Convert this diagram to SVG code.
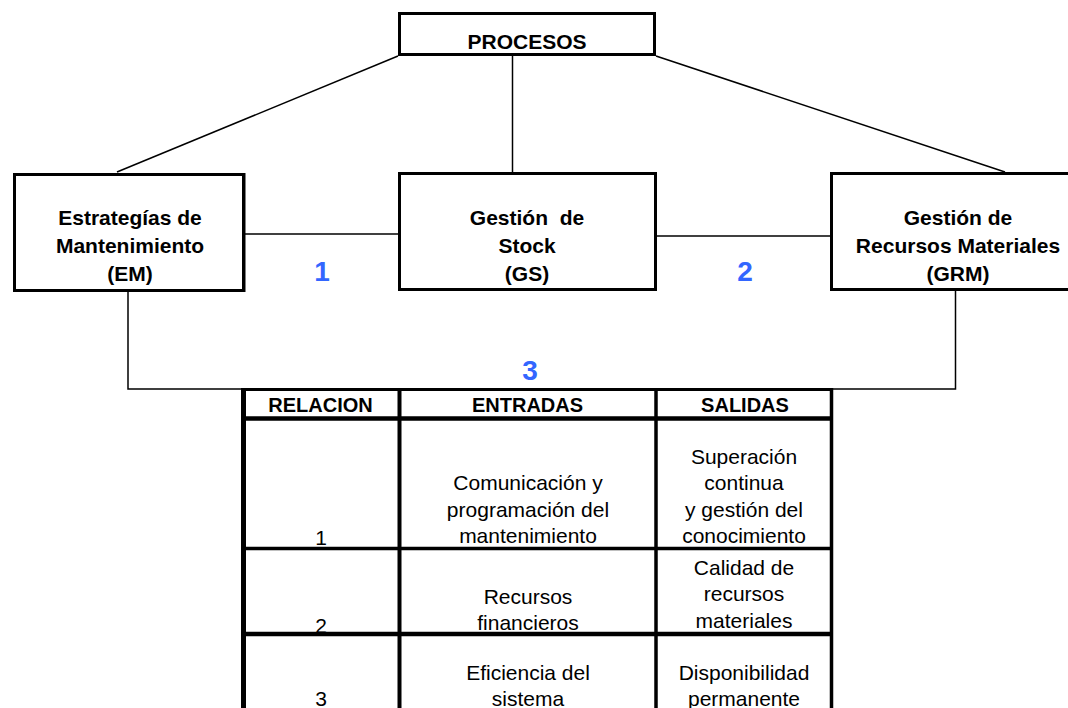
<svg xmlns="http://www.w3.org/2000/svg" width="1068" height="708" viewBox="0 0 1068 708">
  <style>
    .box { fill: #ffffff; stroke: #000000; stroke-width: 3; }
    .link { fill: none; stroke: #000000; stroke-width: 1.5; }
    .grid { fill: none; stroke: #000000; }
    .title { font-family: "Liberation Sans", Arial, sans-serif; font-weight: bold; font-size: 21px; fill: #000000; text-anchor: middle; }
    .num { font-family: "Liberation Sans", Arial, sans-serif; font-weight: bold; font-size: 28px; fill: #3366FF; text-anchor: middle; }
    .head { font-family: "Liberation Sans", Arial, sans-serif; font-weight: bold; font-size: 20px; fill: #000000; text-anchor: middle; }
    .cell { font-family: "Liberation Sans", Arial, sans-serif; font-size: 21px; fill: #000000; text-anchor: middle; }
  </style>
  <rect width="1068" height="708" fill="#ffffff"/>

  <!-- connectors -->
  <g id="connectors">
    <line class="link" x1="398" y1="56" x2="117" y2="172"/>
    <line class="link" x1="656" y1="56" x2="1005" y2="172"/>
    <line class="link" x1="512.5" y1="56" x2="512.5" y2="173"/>
    <line class="link" x1="245" y1="234" x2="398" y2="234"/>
    <line class="link" x1="657" y1="236" x2="830" y2="236"/>
    <path class="link" d="M128,292 V389 H955.5 V291"/>
  </g>

  <!-- relation numbers -->
  <g id="relation-labels">
    <text class="num" x="322" y="281">1</text>
    <text class="num" x="745" y="281">2</text>
    <text class="num" x="530" y="380">3</text>
  </g>

  <g id="procesos">
    <rect class="box" x="399.5" y="13.5" width="255" height="41"/>
    <text class="title" x="527" y="49">PROCESOS</text>
  </g>

  <g id="em">
    <rect class="box" x="14.5" y="174.5" width="229" height="116"/>
    <line x1="244" y1="173" x2="244" y2="292" stroke="#000" stroke-width="3"/>
    <text class="title" x="130" y="225">Estrategías de</text>
    <text class="title" x="130" y="253">Mantenimiento</text>
    <text class="title" x="130" y="281">(EM)</text>
  </g>

  <g id="gs">
    <rect class="box" x="399.5" y="173.5" width="256" height="116"/>
    <text class="title" x="527" y="225" xml:space="preserve">Gestión  de</text>
    <text class="title" x="527" y="253">Stock</text>
    <text class="title" x="527" y="281">(GS)</text>
  </g>

  <g id="grm">
    <rect class="box" x="831.5" y="173.5" width="260" height="116"/>
    <text class="title" x="958" y="225">Gestión de</text>
    <text class="title" x="958" y="253">Recursos Materiales</text>
    <text class="title" x="958" y="281">(GRM)</text>
  </g>

  <!-- relations table -->
  <g id="table">
    <rect x="243" y="389" width="589" height="330" fill="#ffffff"/>
    <line class="grid" x1="241.5" y1="389.5" x2="833" y2="389.5" stroke-width="3"/>
    <line class="grid" x1="241" y1="418.5" x2="833" y2="418.5" stroke-width="4.5"/>
    <line class="grid" x1="241" y1="548.5" x2="833" y2="548.5" stroke-width="3.5"/>
    <line class="grid" x1="241" y1="634" x2="833" y2="634" stroke-width="4.5"/>
    <line class="grid" x1="243.5" y1="388" x2="243.5" y2="708" stroke-width="5"/>
    <line class="grid" x1="399.5" y1="388" x2="399.5" y2="708" stroke-width="4"/>
    <line class="grid" x1="656" y1="388" x2="656" y2="708" stroke-width="3.5"/>
    <line class="grid" x1="831.5" y1="388" x2="831.5" y2="708" stroke-width="3.5"/>

    <text class="head" x="320.5" y="412">RELACION</text>
    <text class="head" x="527.5" y="412">ENTRADAS</text>
    <text class="head" x="745" y="412">SALIDAS</text>

    <text class="cell" x="321" y="545">1</text>
    <text class="cell" x="528" y="490">Comunicación y</text>
    <text class="cell" x="528" y="516.5">programación del</text>
    <text class="cell" x="528" y="543">mantenimiento</text>
    <text class="cell" x="744" y="464">Superación</text>
    <text class="cell" x="744" y="490">continua</text>
    <text class="cell" x="744" y="516.5">y gestión del</text>
    <text class="cell" x="744" y="543">conocimiento</text>

    <text class="cell" x="321" y="632.5">2</text>
    <text class="cell" x="528" y="604">Recursos</text>
    <text class="cell" x="528" y="630">financieros</text>
    <text class="cell" x="744" y="574.5">Calidad de</text>
    <text class="cell" x="744" y="601">recursos</text>
    <text class="cell" x="744" y="627.5">materiales</text>

    <text class="cell" x="321" y="706">3</text>
    <text class="cell" x="528" y="680">Eficiencia del</text>
    <text class="cell" x="528" y="706">sistema</text>
    <text class="cell" x="744" y="680">Disponibilidad</text>
    <text class="cell" x="744" y="706">permanente</text>
  </g>
</svg>
